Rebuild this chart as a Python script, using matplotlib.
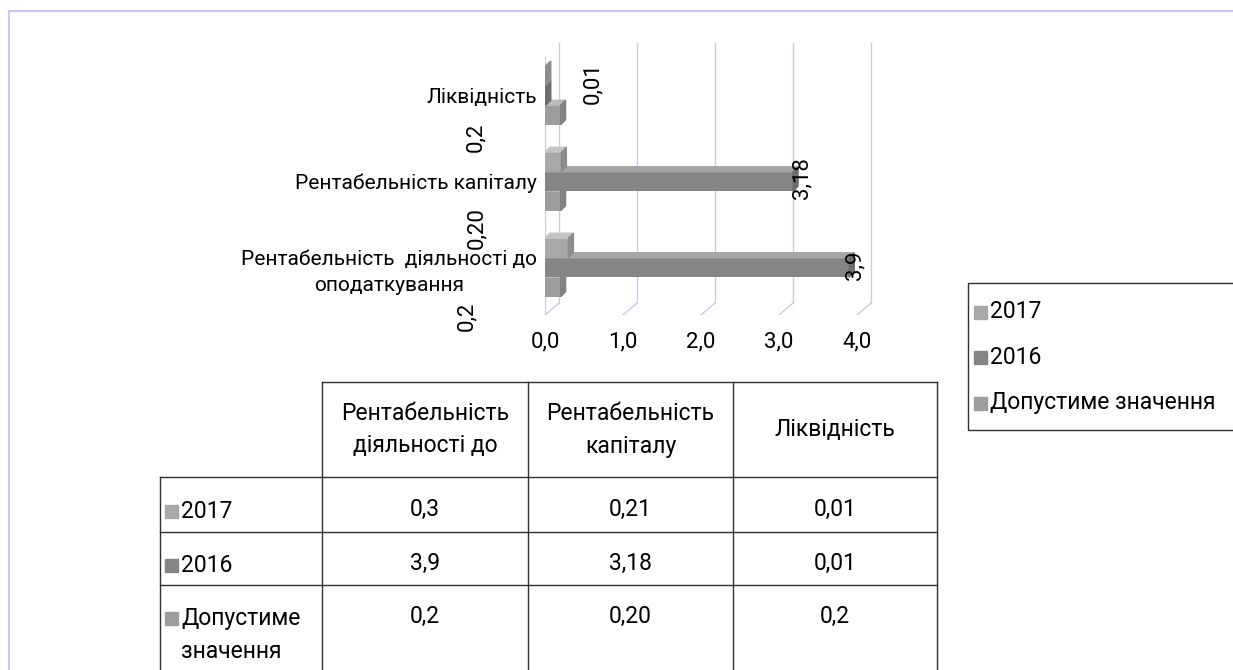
import matplotlib.pyplot as plt
from matplotlib.patches import Polygon, Rectangle

plt.rcParams['font.family'] = ['Roboto', 'DejaVu Sans']

# categories from bottom to top of the bar chart
categories = ['Рентабельність  діяльності до\nоподаткування', 'Рентабельність капіталу', 'Ліквідність']
table_headers = ['Рентабельність\nдіяльності до', 'Рентабельність\nкапіталу', 'Ліквідність']
series_names = ['2017', '2016', 'Допустиме значення']
row_names = ['2017', '2016', 'Допустиме\nзначення']
values_2017 = [0.3, 0.21, 0.01]
values_2016 = [3.9, 3.18, 0.01]
values_norm = [0.2, 0.20, 0.2]
decimals_2017 = [1, 2, 2]
decimals_2016 = [1, 2, 2]
decimals_norm = [1, 2, 1]
x_ticks = [0, 1, 2, 3, 4]

W, H = 1233, 670
FS_CAT = 15
FS_NUM = 16
FS_TAB = 16.5
grid_c = '#c8c8f0'
front_c = ['#a8a8a8', '#858585', '#9d9d9d']
top_c = ['#c4c4c4', '#a6a6a6', '#bababa']
side_c = ['#8c8c8c', '#6c6c6c', '#828282']


def fmt(v, d):
    return f'{v:.{d}f}'.replace('.', ',')


def fbox(x0, y0, x1, y1):
    return [x0 / W, 1 - y1 / H, (x1 - x0) / W, (y1 - y0) / H]


fig = plt.figure(figsize=(W / 100, H / 100), dpi=100)

# background layer in pixel units: frame, table, legend
bg = fig.add_axes([0, 0, 1, 1])
bg.set_xlim(0, W)
bg.set_ylim(H, 0)
bg.axis('off')
bg.plot([9, W + 5], [11, 11], color='#c8c8f8', lw=1.5)
bg.plot([9, 9], [11, H + 5], color='#c8c8f8', lw=1.5)

# bar chart
ax = fig.add_axes(fbox(545, 43, 885, 315))
ax.patch.set_alpha(0)
for s in ax.spines.values():
    s.set_visible(False)
ppx, ppy = 78.0, 86.0
y0 = -47.5 / ppy
y1 = y0 + 272 / ppy
ax.set_xlim(0, 340 / ppx)
ax.set_ylim(y0, y1)

bx, by = 14 / ppx, 12 / ppy
for v in x_ticks:
    ax.plot([v + bx, v + bx], [y0 + by, y1], color=grid_c, lw=1, zorder=1)
    ax.plot([v, v + bx], [y0, y0 + by], color=grid_c, lw=1, zorder=1)
ax.plot([0, 0], [y0, y0 + 258 / ppy], color=grid_c, lw=1, zorder=1)

h = 19.5 / ppy
dx, dy = 5 / ppx, 5 / ppy
series = [values_2017, values_2016, values_norm]
offsets = [h, 0, -h]
for k, vals in enumerate(series):
    for i, v in enumerate(vals):
        yc = i + offsets[k]
        z = 3 + yc
        ax.barh(yc, v, height=h, color=front_c[k], zorder=z)
        ya, yb = yc - h / 2, yc + h / 2
        ax.add_patch(Polygon([(0, yb), (v, yb), (v + dx, yb + dy), (dx, yb + dy)],
                             closed=True, color=top_c[k], zorder=z))
        ax.add_patch(Polygon([(v, ya), (v, yb), (v + dx, yb + dy), (v + dx, ya + dy)],
                             closed=True, color=side_c[k], zorder=z))

# value labels for 2016 and the allowed value
lab_off_2016 = [(6, 2), (9, 3), (47, 12)]
lab_off_norm = [(-94, -29), (-84, -27), (-85, -22)]
for i, v in enumerate(values_2016):
    ax.annotate(fmt(v, decimals_2016[i]), xy=(v, i), xytext=lab_off_2016[i],
                textcoords='offset pixels', rotation=90, ha='center', va='center',
                fontsize=FS_NUM, zorder=10)
for i, v in enumerate(values_norm):
    ax.annotate(fmt(v, decimals_norm[i]), xy=(v, i - h), xytext=lab_off_norm[i],
                textcoords='offset pixels', rotation=90, ha='center', va='center',
                fontsize=FS_NUM, zorder=10, annotation_clip=False)

ax.set_xticks(x_ticks)
ax.set_xticklabels([fmt(v, 1) for v in x_ticks], fontsize=FS_NUM)
ax.tick_params(axis='x', length=0, pad=12)
ax.set_yticks(range(len(categories)))
ax.set_yticklabels(categories, fontsize=FS_CAT, multialignment='center', linespacing=1.45)
ax.tick_params(axis='y', length=0, pad=6)

# data table under the chart
col_x = [160, 322, 528, 733, 937]
row_y = [382, 477, 532, 585, H + 5]
line_c = '#303030'
bg.plot([col_x[1], col_x[-1]], [row_y[0], row_y[0]], color=line_c, lw=1)
for y in row_y[1:-1]:
    bg.plot([col_x[0], col_x[-1]], [y, y], color=line_c, lw=1)
for j, x in enumerate(col_x):
    top = row_y[1] if j == 0 else row_y[0]
    bg.plot([x, x], [top, row_y[-1]], color=line_c, lw=1)

line_gap = 33
for j, head in enumerate(table_headers):
    cx = (col_x[j + 1] + col_x[j + 2]) / 2
    lines = head.split('\n')
    cy = (row_y[0] + row_y[1]) / 2 - (len(lines) - 1) * line_gap / 2
    for n, part in enumerate(lines):
        bg.text(cx, cy + n * line_gap, part, ha='center', va='center', fontsize=FS_TAB)

value_rows = [(values_2017, decimals_2017), (values_2016, decimals_2016), (values_norm, decimals_norm)]
row_text_y = [509, 563, 616]
for r, (vals, decs) in enumerate(value_rows):
    for j, v in enumerate(vals):
        cx = (col_x[j + 1] + col_x[j + 2]) / 2
        bg.text(cx, row_text_y[r], fmt(v, decs[j]), ha='center', va='center', fontsize=FS_TAB)
    ky = row_text_y[r] + 2
    bg.add_patch(Rectangle((165, ky - 6.5), 13, 13, color=front_c[r]))
    for n, part in enumerate(row_names[r].split('\n')):
        bg.text(181, ky + n * line_gap, part, ha='left', va='center', fontsize=FS_TAB)

# legend
bg.add_patch(Rectangle((968, 283), 290, 147, fill=False, edgecolor='#303030', lw=1))
leg_y = [312, 357, 403]
for k, name in enumerate(series_names):
    bg.add_patch(Rectangle((974, leg_y[k] - 6.5), 13, 13, color=front_c[k]))
    bg.text(990, leg_y[k], name, ha='left', va='center', fontsize=FS_TAB)

fig.savefig('out.png', dpi=100)
